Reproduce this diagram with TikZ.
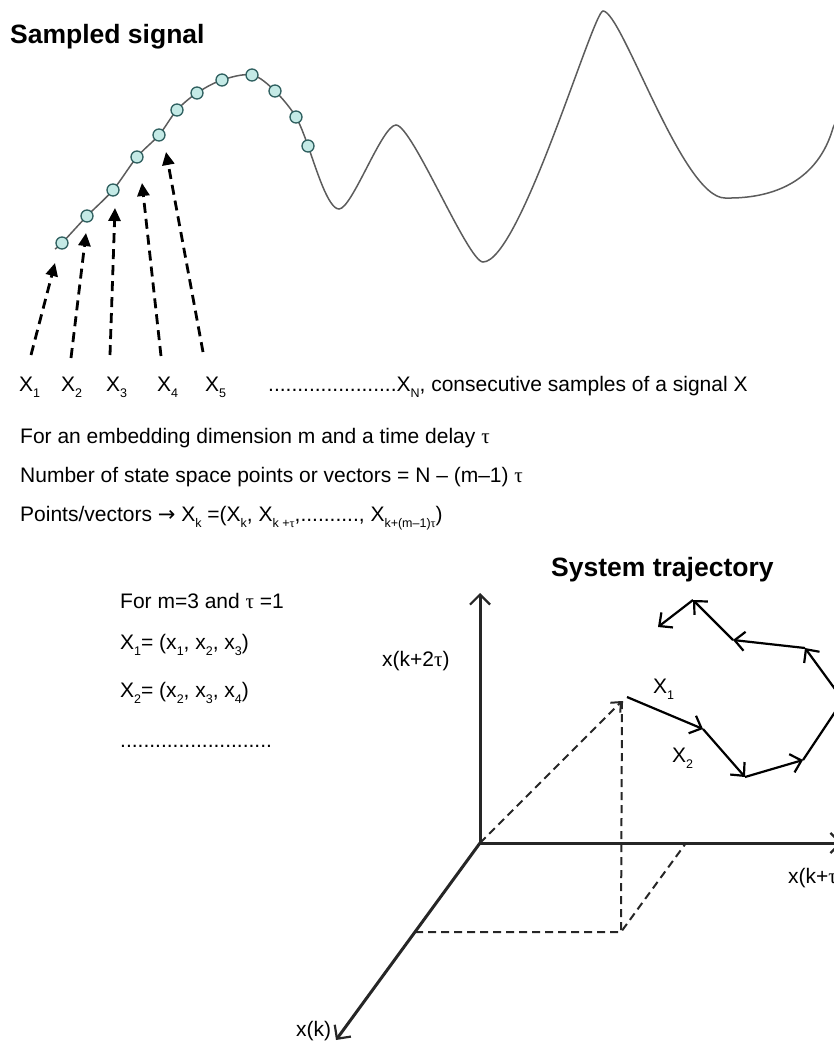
\documentclass[tikz,border=0pt]{standalone}
\usepackage{fontspec}
\setmainfont{Liberation Sans}
\newfontfamily\symf{Liberation Serif}
\newfontfamily\arrf{DejaVu Sans}
\usetikzlibrary{arrows.meta,calc}
\newcommand\sbs[1]{\raisebox{-6pt}{\fontsize{12.5}{12.5}\selectfont #1}}
\newcommand\tauc{{\symf τ}}
\newcommand\rarr{{\arrf →}}
\definecolor{sigcol}{HTML}{5C5C5C}
\definecolor{dotedge}{HTML}{2E5F5F}
\definecolor{dotfill}{HTML}{C4EAE6}
\definecolor{axcol}{HTML}{262626}
\begin{document}
\begin{tikzpicture}[x=1pt,y=-1pt,
  txt/.style={font=\fontsize{21}{25}\selectfont, inner sep=0pt, anchor=base west},
  ttl/.style={font=\fontsize{26.5}{30}\selectfont\bfseries, inner sep=0pt, anchor=base west},
  sig/.style={draw=sigcol, line width=1.5pt},
  smp/.style={circle, draw=dotedge, fill=dotfill, line width=1.3pt, minimum size=12pt, inner sep=0pt},
  darr/.style={line width=2.8pt, dash pattern=on 10pt off 6pt, -{Triangle[length=13pt,width=12pt]}},
  axis/.style={line width=3pt, draw=axcol, -{Straight Barb[length=10pt,width=20pt,line width=2.2pt]}},
  traj/.style={line width=2.2pt, -{Straight Barb[length=10pt,width=19pt]}},
  proj/.style={line width=2pt, draw=axcol, dash pattern=on 8pt off 5pt},
]
\useasboundingbox (0,0) rectangle (833,1046);

% ---------- Sampled signal ----------
\node[ttl] (t1) at (10,44) {Sampled signal};

\draw[sig] plot[smooth,tension=0.55] coordinates {(55,249) (62,243) (87,216) (113,190) (137,157) (159,135) (177,110) (197,93) (222,80) (252,75) (275,91) (296,117) (308,146)};
\draw[sig] (308,146) .. controls (316,168) and (328,209) .. (339,209)
  .. controls (352,209) and (382,125) .. (396,125)
  .. controls (412,125) and (468,262) .. (483,262)
  .. controls (520,262) and (593,11) .. (603,11)
  .. controls (622,11) and (682,198) .. (725,198)
  .. controls (775,199) and (818,180) .. (833,128) -- (840,112);

\foreach \i/\p in {1/{(62,243)},2/{(87,216)},3/{(113,190)},4/{(137,157)},5/{(159,135)},6/{(177,110)},7/{(197,93)},8/{(222,80)},9/{(252,75)},10/{(275,91)},11/{(296,117)},12/{(308,146)}}
  \node[smp] (s\i) at \p {};

\coordinate (b1) at (31,355);  \coordinate (h1) at (55,263);
\coordinate (b2) at (71,358);  \coordinate (h2) at (86,233);
\coordinate (b3) at (110,355); \coordinate (h3) at (115,208);
\coordinate (b4) at (161,356); \coordinate (h4) at (142,183);
\coordinate (b5) at (203,352); \coordinate (h5) at (166,152);
\foreach \i in {1,...,5} \draw[darr] (b\i) -- (h\i);

\node[txt] (x1) at (19,391) {X\sbs{1}};
\node[txt] (x2) at (61,391) {X\sbs{2}};
\node[txt] (x3) at (106,391) {X\sbs{3}};
\node[txt] (x4) at (157,391) {X\sbs{4}};
\node[txt] (x5) at (205,391) {X\sbs{5}};
\node[txt] (xn) at (268,391) {......................X\sbs{N}, consecutive samples of a signal X};

\node[txt] (l1) at (20,443) {For an embedding dimension m and a time delay \tauc};
\node[txt] (l2) at (20,482) {Number of state space points or vectors = N – (m–1) \tauc};
\node[txt] (l3) at (20,521) {Points/vectors \rarr\ X\sbs{k} =(X\sbs{k}, X\sbs{k +\tauc},.........., X\sbs{k+(m–1)\tauc})};

\node[txt] (m1) at (120,608) {For m=3 and \tauc\ =1};
\node[txt] (m2) at (120,649) {X\sbs{1}= (x\sbs{1}, x\sbs{2}, x\sbs{3})};
\node[txt] (m3) at (120,697) {X\sbs{2}= (x\sbs{2}, x\sbs{3}, x\sbs{4})};
\node[txt] (m4) at (120,747) {..........................};

% ---------- System trajectory ----------
\node[ttl] (t2) at (551,576) {System trajectory};
\node[txt] (yl) at (382,666) {x(k+2\tauc)};
\node[txt] (xl) at (788,883) {x(k+\tauc)};
\node[txt] (zl) at (296,1036) {x(k)};

\coordinate (O) at (480,843);
\coordinate (Ytip) at (480,593);
\coordinate (Xtip) at (842,843);
\coordinate (Ztip) at (336,1040);
\coordinate (Q) at (622,701);
\coordinate (F) at (621,932);
\coordinate (G) at (415,932);
\coordinate (H) at (686,843);

\draw[proj, -{Straight Barb[length=8pt,width=14pt]}] (O) -- (Q);
\draw[proj] (Q) -- (F);
\draw[proj] (G) -- (F) -- (H);

\draw[axis] (O) -- (Ytip);
\draw[axis] (O) -- (Xtip);
\draw[axis] (O) -- (Ztip);

\coordinate (P0) at (627,697);
\coordinate (P1) at (703,729);
\coordinate (P2) at (745,777);
\coordinate (P3) at (803,760);
\coordinate (P4) at (843,700);
\coordinate (P5) at (805,648);
\coordinate (P6) at (733,640);
\coordinate (P7) at (693,600);
\coordinate (P8) at (658,627);
\draw[traj] (P0) -- (P1);
\draw[traj] (P1) -- (P2);
\draw[traj] (P2) -- (P3);
\draw[line width=2.2pt] (P3) -- (P4);
\draw[traj] (P4) -- (P5);
\draw[traj] (P5) -- (P6);
\draw[traj] (P6) -- (P7);
\draw[traj] (P7) -- (P8);

\node[txt] (lx1) at (653,693) {X\sbs{1}};
\node[txt] (lx2) at (672,762) {X\sbs{2}};
\end{tikzpicture}
\end{document}
